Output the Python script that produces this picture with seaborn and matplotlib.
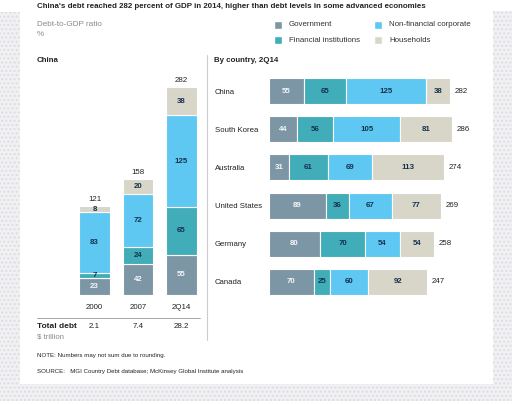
import matplotlib
matplotlib.use("Agg")
import matplotlib.pyplot as plt
import matplotlib.patches as mpatches
import seaborn as sns
import numpy as np

# China over time
years = ["2000", "2007", "2Q14"]
cn_gov = [23, 42, 55]
cn_fin = [7, 24, 65]
cn_nonfin = [83, 72, 125]
cn_hh = [8, 20, 38]
cn_totals = [121, 158, 282]
total_debt = ["2.1", "7.4", "28.2"]

# By country, 2Q14
countries = ["China", "South Korea", "Australia", "United States", "Germany", "Canada"]
gov = [55, 44, 31, 89, 80, 70]
fin = [65, 56, 61, 36, 70, 25]
nonfin = [125, 105, 69, 67, 54, 60]
hh = [38, 81, 113, 77, 54, 92]
totals = [282, 286, 274, 269, 258, 247]

series_names = ["Government", "Financial institutions", "Non-financial corporate", "Households"]
colors = ["#7d96a6", "#41adb8", "#5ec8f2", "#d8d6c8"]
label_colors = ["#f4f6f8", "#16324e", "#16324e", "#16324e"]

sns.set_style("white")
plt.rcParams["font.family"] = ["Liberation Sans", "DejaVu Sans"]

W, H = 512, 404
fig = plt.figure(figsize=(W / 100, H / 100), dpi=100)
fig.patch.set_facecolor("white")


def fx(px):
    return px / W


def fy(py):
    return 1 - py / H


# dotted grey frame round the white panel
frame_kw = dict(transform=fig.transFigure, facecolor="#f1f1f4", edgecolor="#dcdce2",
                hatch="....", linewidth=0, zorder=-5)
fig.patches.append(mpatches.Rectangle((0, fy(384)), fx(20), (384 - 12) / H, **frame_kw))
fig.patches.append(mpatches.Rectangle((fx(493), fy(384)), fx(19), (384 - 11) / H, **frame_kw))
fig.patches.append(mpatches.Rectangle((0, fy(401)), 1, (401 - 384) / H, **frame_kw))

dark = "#222222"
grey = "#8a8a8a"

fig.text(fx(37), fy(6), "China's debt reached 282 percent of GDP in 2014, higher than debt levels in some advanced economies",
         fontsize=5.7, fontweight="bold", color=dark, va="center")
fig.text(fx(37), fy(25), "Debt-to-GDP ratio", fontsize=5.9, color=grey, va="center")
fig.text(fx(37), fy(34), "%", fontsize=5.9, color=grey, va="center")

# legend
leg_pos = [(278, 25), (278, 40), (378, 25), (378, 40)]
for (lx, ly), name, c in zip(leg_pos, series_names, colors):
    fig.patches.append(mpatches.Rectangle((fx(lx - 4), fy(ly + 4)), 8 / W, 8 / H,
                                          transform=fig.transFigure, facecolor=c, zorder=2))
    fig.text(fx(lx + 11), fy(ly), name, fontsize=5.7, color="#333333", va="center")

fig.text(fx(37), fy(61), "China", fontsize=5.7, fontweight="bold", color=dark, va="center")
fig.text(fx(214), fy(61), "By country, 2Q14", fontsize=5.7, fontweight="bold", color=dark, va="center")

# separator lines
fig.add_artist(plt.Line2D([fx(207), fx(207)], [fy(55), fy(340)], color="#cccccc", lw=0.8))
fig.add_artist(plt.Line2D([fx(37), fx(200)], [fy(318), fy(318)], color="#999999", lw=0.6))

# ---- left chart: China stacked columns ----
ax1 = fig.add_axes([fx(60), fy(295), (205 - 60) / W, (295 - 70) / H])
ax1.patch.set_alpha(0)
px_per_unit_y = 207 / 282
ax1_top = (295 - 70) / px_per_unit_y
cn_stack = [cn_gov, cn_fin, cn_nonfin, cn_hh]
bottom = np.zeros(len(years))
for vals, c, lc in zip(cn_stack, colors, label_colors):
    sns.barplot(x=years, y=vals, bottom=bottom, color=c, width=0.69,
                edgecolor="white", linewidth=0.8, saturation=1, ax=ax1)
    for i, v in enumerate(vals):
        ax1.text(i, bottom[i] + v / 2, str(v), ha="center", va="center",
                 fontsize=5.7, color=lc, fontweight="bold")
    bottom = bottom + np.array(vals)
for i, t in enumerate(cn_totals):
    ax1.annotate(str(t), (i, bottom[i]), xytext=(0, 5), textcoords="offset points",
                 ha="center", va="center", fontsize=5.7, color=dark)
ax1.set_xlim(-0.793, 2.54)
ax1.set_ylim(0, ax1_top)
ax1.set_xlabel("")
ax1.set_ylabel("")
ax1.set_yticks([])
ax1.tick_params(axis="x", length=0, pad=6.5, labelsize=5.7, labelcolor=dark)
sns.despine(ax=ax1, left=True, bottom=True)

fig.text(fx(37), fy(327), "Total debt", fontsize=6.0, fontweight="bold", color=dark, va="center")
fig.text(fx(37), fy(337), "$ trillion", fontsize=5.6, color=grey, va="center")
for i, td in enumerate(total_debt):
    xpix = 94.5 + 43.5 * i
    fig.text(fx(xpix), fy(327), td, fontsize=5.7, color=dark, va="center", ha="center")

# ---- right chart: by country stacked horizontal bars ----
ax2 = fig.add_axes([fx(269), fy(301), (480 - 269) / W, (301 - 72) / H])
ax2.patch.set_alpha(0)
ctry_stack = [gov, fin, nonfin, hh]
left = np.zeros(len(countries))
for vals, c, lc in zip(ctry_stack, colors, label_colors):
    sns.barplot(x=vals, y=countries, left=left, orient="h", color=c, width=0.68,
                edgecolor="white", linewidth=0.8, saturation=1, ax=ax2)
    for i, v in enumerate(vals):
        ax2.text(left[i] + v / 2, i, str(v), ha="center", va="center",
                 fontsize=5.7, color=lc, fontweight="bold")
    left = left + np.array(vals)
for i, t in enumerate(totals):
    ax2.annotate(str(t), (left[i], i), xytext=(3, 0), textcoords="offset points",
                 ha="left", va="center", fontsize=5.7, color=dark)
ax2.set_xlim(0, (480 - 269) / 0.64)
ax2.set_ylim(5.5, -0.5)
ax2.set_xlabel("")
ax2.set_ylabel("")
ax2.set_xticks([])
ax2.tick_params(axis="y", length=0, pad=(269 - 215) * 0.72, labelsize=5.6, labelcolor=dark)
for lab in ax2.get_yticklabels():
    lab.set_ha("left")
sns.despine(ax=ax2, left=True, bottom=True)

fig.text(fx(37), fy(355), "NOTE: Numbers may not sum due to rounding.", fontsize=4.4, color=dark, va="center")
fig.text(fx(37), fy(372), "SOURCE:   MGI Country Debt database; McKinsey Global Institute analysis",
         fontsize=4.4, color=dark, va="center")

fig.savefig("out.png", dpi=100)
